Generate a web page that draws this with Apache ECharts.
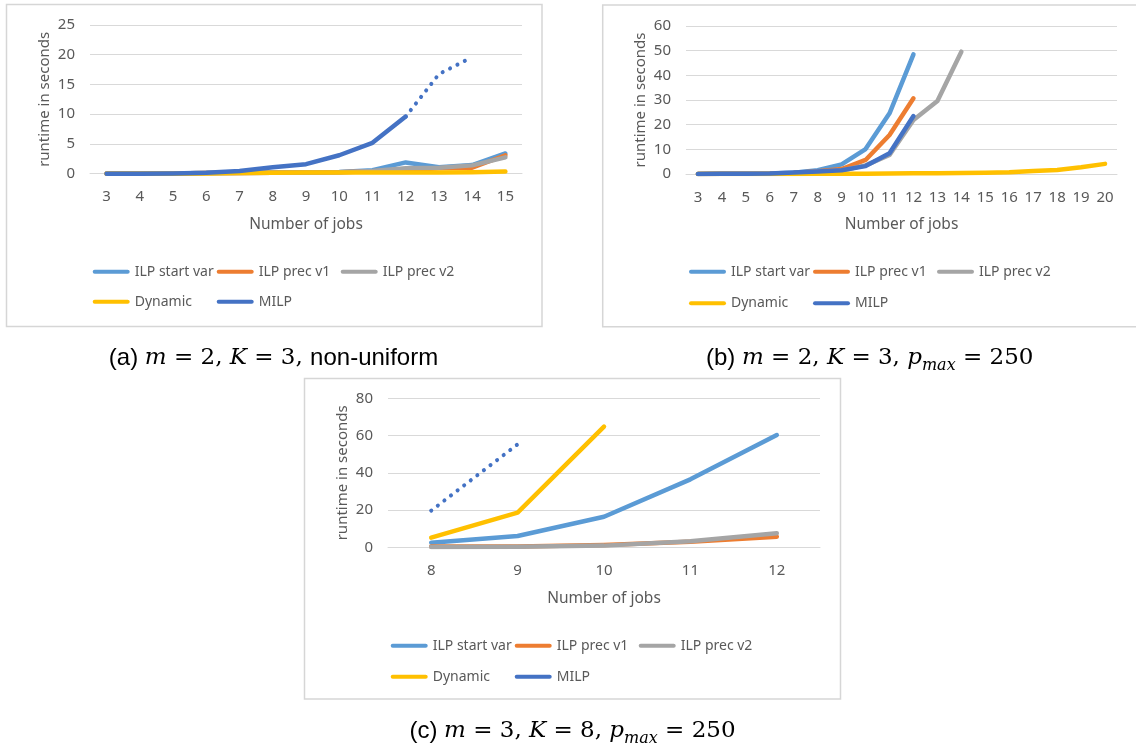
<!DOCTYPE html>
<html>
<head>
<meta charset="utf-8">
<title>runtime in seconds</title>
<script src="https://cdn.jsdelivr.net/npm/echarts@6.0.0/dist/echarts.min.js"></script>
<style>
html, body { margin: 0; padding: 0; background: #fff; }
#main { width: 1136px; height: 749px; }
</style>
</head>
<body>
<div id="main"></div>
<script>
// (a) m = 2, K = 3, non-uniform
var jobsA = ['3', '4', '5', '6', '7', '8', '9', '10', '11', '12', '13', '14', '15'];
var startVarA = [0.05, 0.05, 0.05, 0.1, 0.15, 0.2, 0.25, 0.3, 0.6, 1.9, 1.1, 1.45, 3.4];
var precV1A = [0.05, 0.05, 0.05, 0.1, 0.1, 0.15, 0.2, 0.25, 0.4, 0.6, 0.9, 1.0, 3.1];
var precV2A = [0.05, 0.05, 0.05, 0.1, 0.1, 0.15, 0.2, 0.25, 0.45, 0.9, 1.0, 1.4, 2.75];
var dynamicA = [0, 0, 0, 0.05, 0.1, 0.15, 0.2, 0.2, 0.2, 0.2, 0.2, 0.25, 0.35];
var milpA = [0, 0, 0.05, 0.15, 0.45, 1.07, 1.6, 3.1, 5.2, 9.6, null, null, null];
var milpDotA = [null, null, null, null, null, null, null, null, null, 9.6, 16.75, 19.6, null];

// (b) m = 2, K = 3, p_max = 250
var jobsB = ['3', '4', '5', '6', '7', '8', '9', '10', '11', '12', '13', '14', '15', '16', '17', '18', '19', '20'];
var startVarB = [0, 0.1, 0.1, 0.2, 0.5, 1.5, 3.9, 10.1, 24.6, 48.5];
var precV1B = [0, 0.1, 0.1, 0.1, 0.4, 1.1, 2.0, 5.7, 15.8, 30.7];
var precV2B = [0, 0.1, 0.1, 0.1, 0.4, 1.0, 1.4, 3.5, 7.7, 21.9, 29.6, 49.6];
var dynamicB = [0, 0, 0, 0, 0.05, 0.1, 0.1, 0.15, 0.2, 0.3, 0.35, 0.4, 0.5, 0.7, 1.2, 1.6, 2.7, 4.1];
var milpB = [0, 0.1, 0.1, 0.2, 0.6, 1.0, 1.5, 3.2, 8.4, 23.5];

// (c) m = 3, K = 8, p_max = 250
var jobsC = ['8', '9', '10', '11', '12'];
var startVarC = [2.5, 6.1, 16.4, 36.5, 60.3];
var precV1C = [0.4, 0.4, 1.2, 3.0, 5.7];
var precV2C = [0.2, 0.3, 0.9, 3.2, 7.6];
var dynamicC = [5.2, 18.6, 64.8];
var milpC = [];
var milpDotC = [19.7, 55.3];

var names = ['ILP start var', 'ILP prec v1', 'ILP prec v2', 'Dynamic', 'MILP'];
var colors = ['#5B9BD5', '#ED7D31', '#A5A5A5', '#FFC000', '#4472C4'];

var grey = '#595959';
var gridGrey = '#D9D9D9';

function line(name, data, idx, color, dotted) {
    return {
        name: name,
        type: 'line',
        xAxisIndex: idx,
        yAxisIndex: idx,
        data: data,
        symbol: 'none',
        showSymbol: false,
        silent: true,
        itemStyle: { color: color },
        lineStyle: {
            color: color,
            width: dotted ? 4 : 4.5,
            type: dotted ? [0.1, 8.2] : 'solid',
            cap: 'round',
            join: 'round'
        }
    };
}

function xAxis(idx, cats) {
    return {
        type: 'category',
        gridIndex: idx,
        data: cats,
        boundaryGap: true,
        axisTick: { show: false },
        axisLine: { show: true, lineStyle: { color: gridGrey, width: 1 } },
        axisLabel: { color: grey, fontSize: 15, margin: 16, interval: 0 },
        name: 'Number of jobs',
        nameLocation: 'middle',
        nameGap: 43,
        nameTextStyle: { color: grey, fontSize: 15.5 }
    };
}

function yAxis(idx, max, step) {
    return {
        type: 'value',
        gridIndex: idx,
        min: 0,
        max: max,
        interval: step,
        axisLine: { show: false },
        axisTick: { show: false },
        splitLine: { lineStyle: { color: gridGrey, width: 1 } },
        axisLabel: { color: grey, fontSize: 15, margin: 15 },
        name: 'runtime in seconds',
        nameLocation: 'middle',
        nameGap: 38,
        nameTextStyle: { color: grey, fontSize: 15 }
    };
}

function legend(items, left, y) {
    return {
        data: items,
        left: left,
        top: y - 10,
        padding: 0,
        itemGap: 0,
        itemWidth: 37,
        itemHeight: 4.5,
        selectedMode: false,
        icon: 'path://M2,0H35A2,2,0,0,1,35,4H2A2,2,0,0,1,2,0Z',
        formatter: '{t|{name}}',
        textStyle: {
            color: grey,
            fontSize: 14,
            rich: { t: { width: 82, height: 20, lineHeight: 20, fontSize: 14, color: grey } }
        }
    };
}

function frame(x, y, w, h) {
    return {
        type: 'rect',
        silent: true,
        shape: { x: x, y: y, width: w, height: h },
        style: { fill: null, stroke: '#D6D6D6', lineWidth: 1.5 }
    };
}

var capRich = {
    s: { fontFamily: 'Liberation Sans', fontSize: 24, color: '#000', lineHeight: 32 },
    i: { fontFamily: 'DejaVu Serif', fontStyle: 'italic', fontSize: 23, color: '#000', lineHeight: 32 },
    r: { fontFamily: 'DejaVu Serif', fontSize: 23, color: '#000', lineHeight: 32 },
    sub: { fontFamily: 'DejaVu Serif', fontStyle: 'italic', fontSize: 16, color: '#000', lineHeight: 15, verticalAlign: 'bottom' }
};

function caption(text, x, y) {
    return {
        type: 'text',
        silent: true,
        x: x,
        y: y,
        style: {
            text: text,
            rich: capRich,
            align: 'center',
            verticalAlign: 'middle'
        }
    };
}

var series = [];
[[startVarA, precV1A, precV2A, dynamicA, milpA],
 [startVarB, precV1B, precV2B, dynamicB, milpB],
 [startVarC, precV1C, precV2C, dynamicC, milpC]].forEach(function (set, idx) {
    set.forEach(function (d, k) {
        series.push(line(names[k], d, idx, colors[k], false));
    });
});
series.push(line('MILP dotted a', milpDotA, 0, colors[4], true));
series.push(line('MILP dotted c', milpDotC, 2, colors[4], true));

var chart = echarts.init(document.getElementById('main'), null, { renderer: 'canvas' });

chart.setOption({
    animation: false,
    backgroundColor: '#fff',
    textStyle: { fontFamily: 'Noto Sans' },
    grid: [
        { left: 90, top: 25, width: 432, height: 148.7, outerBoundsMode: 'none' },
        { left: 686, top: 26, width: 431, height: 148, outerBoundsMode: 'none' },
        { left: 388, top: 398.3, width: 432, height: 149, outerBoundsMode: 'none' }
    ],
    xAxis: [xAxis(0, jobsA), xAxis(1, jobsB), xAxis(2, jobsC)],
    yAxis: [yAxis(0, 25, 5), yAxis(1, 60, 10), yAxis(2, 80, 20)],
    legend: [
        legend(names.slice(0, 3), 92.7, 271.7),
        legend(names.slice(3), 92.7, 301.7),
        legend(names.slice(0, 3), 689, 271.7),
        legend(names.slice(3), 689, 303.3),
        legend(names.slice(0, 3), 390.7, 645.7),
        legend(names.slice(3), 390.7, 676.7)
    ],
    graphic: [
        frame(6.5, 4.5, 535.5, 322),
        frame(602.7, 5, 540, 321.7),
        frame(304.5, 378.5, 536, 320.5),
        caption('{s|(a) }{i|m}{r| = 2, }{i|K}{r| = 3, }{s|non-uniform}', 273.5, 358.3),
        caption('{s|(b) }{i|m}{r| = 2, }{i|K}{r| = 3, }{i|p}{sub|max}{r| = 250}', 869.7, 358.3),
        caption('{s|(c) }{i|m}{r| = 3, }{i|K}{r| = 8, }{i|p}{sub|max}{r| = 250}', 572.5, 731)
    ],
    series: series
});

window.addEventListener('resize', function () {
    chart.resize();
});
</script>
</body>
</html>
